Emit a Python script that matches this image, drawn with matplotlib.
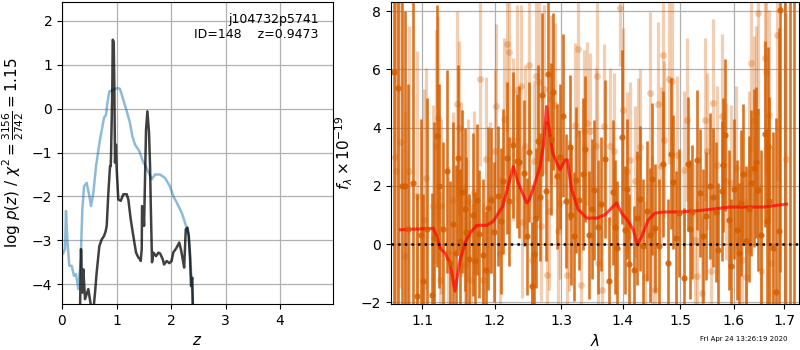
import numpy as np
import matplotlib
matplotlib.use("Agg")
import matplotlib.pyplot as plt
from matplotlib.ticker import ScalarFormatter, NullFormatter, FixedLocator, NullLocator

# ---------------- left panel data ----------------
z_chi = [0.02, 0.055, 0.073, 0.098, 0.134, 0.178, 0.22, 0.257, 0.30, 0.343, 0.373, 0.404,
         0.453, 0.501, 0.532, 0.575, 0.624, 0.697, 0.771, 0.807, 0.832, 0.868, 0.942, 1.015,
         1.064, 1.125, 1.187, 1.248, 1.29, 1.34, 1.419, 1.492, 1.523, 1.645, 1.706, 1.798,
         1.89, 1.98, 2.04, 2.10, 2.196, 2.257, 2.318, 2.349, 2.367, 2.39, 2.41]
chi_val = [-3.3, -3.2, -2.33, -2.98, -3.58, -3.58, -3.81, -3.77, -4.11, -3.43, -2.3, -1.77,
           -1.69, -1.99, -2.22, -1.92, -1.31, -0.70, -0.21, -0.14, 0.13, 0.39, 0.43, 0.47,
           0.45, 0.20, -0.06, -0.33, -0.63, -0.82, -0.97, -1.23, -1.28, -1.61, -1.50, -1.50,
           -1.58, -1.77, -1.99, -2.13, -2.37, -2.60, -2.86, -3.28, -3.73, -4.19, -4.6]

z_pz = [0.33, 0.349, 0.373, 0.391, 0.422, 0.483, 0.544, 0.575, 0.606, 0.636, 0.685, 0.728,
        0.771, 0.801, 0.82, 0.85, 0.881, 0.893, 0.899, 0.923, 0.93, 0.948, 0.96, 0.972,
        0.99, 1.003, 1.033, 1.077, 1.125, 1.187, 1.217, 1.26, 1.308, 1.358, 1.40, 1.43,
        1.444, 1.462, 1.468, 1.49, 1.505, 1.541, 1.566, 1.596, 1.615, 1.627, 1.651, 1.676,
        1.725, 1.768, 1.80, 1.847, 1.872, 1.92, 1.969, 2.01, 2.04, 2.10, 2.15, 2.18,
        2.214, 2.24, 2.27, 2.30, 2.325, 2.349, 2.367, 2.38, 2.39, 2.40]
pz_val = [-4.6, -3.2, -4.19, -3.66, -4.34, -4.11, -4.6, -4.6, -4.19, -3.73, -3.13, -2.98,
          -2.90, -2.79, -2.67, -1.92, -1.31, -1.31, -1.08, 0.51, 1.57, 1.53, 0.51, -1.23,
          -0.82, -1.39, -2.07, -2.10, -1.95, -1.95, -2.07, -2.52, -2.90, -3.28, -3.39, -3.43,
          -3.47, -3.20, -2.22, -2.30, -2.67, -0.48, -0.06, -0.55, -1.31, -2.14, -3.50, -3.28,
          -3.36, -3.28, -3.30, -3.43, -3.55, -3.47, -3.52, -3.47, -3.28, -3.17, -3.05, -3.20,
          -3.43, -3.62, -2.75, -2.71, -2.90, -3.43, -4.04, -3.89, -3.85, -4.7]

# ---------------- right panel data ----------------
wave_a = [1.0625, 1.0686, 1.0729, 1.0770, 1.0818, 1.0874, 1.0926, 1.0979, 1.1013, 1.1066,
          1.1124, 1.1160, 1.1191, 1.1226, 1.1271, 1.1333, 1.1369, 1.1414, 1.1450, 1.1482,
          1.1515, 1.1540, 1.1574, 1.1600, 1.1633, 1.1688, 1.1720, 1.1743, 1.1781, 1.1827,
          1.1874, 1.1906, 1.1943, 1.1996, 1.2049, 1.2090, 1.2129, 1.2176, 1.2210, 1.2270,
          1.2323, 1.2357, 1.2429, 1.2472, 1.2501, 1.2545, 1.2590, 1.2620, 1.2637, 1.2673,
          1.2711, 1.2760, 1.2799, 1.2840, 1.2874, 1.2934, 1.2990, 1.3035, 1.3076, 1.3137,
          1.3160, 1.3203, 1.3240, 1.3281, 1.3344, 1.3386, 1.3449, 1.3490, 1.3528, 1.3590,
          1.3647, 1.3712, 1.3766, 1.3838, 1.3870, 1.3901, 1.3986, 1.4040, 1.4080, 1.4113,
          1.4190, 1.4240, 1.4291, 1.4351, 1.4418, 1.4460, 1.4505, 1.4558, 1.4631, 1.4699,
          1.4788, 1.4841, 1.4881, 1.4930, 1.4988, 1.5077, 1.5138, 1.5180, 1.5220, 1.5304,
          1.5363, 1.5424, 1.5473, 1.5545, 1.5615, 1.5660, 1.5707, 1.5769, 1.5800, 1.5831,
          1.5912, 1.5956, 1.6010, 1.6066, 1.6110, 1.6149, 1.6179, 1.6244, 1.6290, 1.6341,
          1.6393, 1.6441, 1.6485, 1.6540, 1.6606, 1.6650, 1.6672, 1.6706, 1.6774, 1.6828,
          1.6896, 1.6924, 1.7025, 1.7128, 1.7216]
flux_a = [5.92, 5.35, 2.0, 2.0, 0.5, 2.09, -1.77, 0.3, -1.28, 0.5,
          -1.74, 0.2, 3.72, 1.98, 0.51, 2.49, -0.65, 0.69, -0.3, 2.95,
          0.09, 1.8, 1.2, 0.4, -0.5, 1.0, -0.6, 1.52, 0.34, -0.37,
          -0.88, 1.23, 1.5, 0.4, 1.64, 0.8, 2.15, 2.95, 1.46, 3.4,
          2.84, 2.81, 2.44, 0.26, 3.16, -1.43, -0.33, 0.9, 3.54, 1.61,
          5.12, 1.83, 5.84, 3.6, 5.23, 2.32, 3.0, 4.40, 1.48, 3.32,
          1.0, 0.26, 2.2, 1.52, 2.40, 3.26, 0.32, 1.2, 1.86, 0.6,
          1.38, 2.92, -1.28, 1.77, 0.6, -0.14, 3.67, 0.49, 1.9, -0.69,
          -0.88, 0.9, 1.56, -0.08, 1.14, 0.3, 2.23, 0.55, -0.08, 2.74,
          -0.65, 3.10, 2.12, 0.2, 1.06, -1.17, 2.74, 0.5, 1.10, 2.89,
          1.75, 0.26, 0.95, 2.0, 1.60, 1.1, -0.19, 1.81, 2.72, 3.75,
          0.83, -0.77, 1.9, 0.49, -0.3, 1.41, 2.41, 0.09, 1.2, 2.09,
          2.61, 2.80, 1.86, 0.32, 3.78, 0.8, 3.38, 1.46, -0.14, -1.66,
          0.43, 8.04, 10.0, 10.0, 10.0]
err_a = [9, 9, 8, 6, 5, 7, 3.5, 4, 3, 4.5,
         3.5, 4, 4.5, 3.5, 3, 3.5, 2.8, 3.5, 3, 3.2,
         2.5, 2.8, 2.8, 2.6, 2.2, 2.8, 2.4, 2.6, 2.2, 2.6,
         2.0, 2.8, 2.5, 2.4, 2.4, 2.5, 2.5, 2.6, 2.2, 2.5,
         2.3, 2.6, 2.5, 2.0, 2.4, 2.2, 2.3, 2.4, 2.6, 2.2,
         2.8, 2.4, 3.0, 2.6, 2.7, 2.5, 2.5, 2.8, 2.3, 2.5,
         2.4, 2.2, 2.5, 2.4, 2.6, 2.5, 2.2, 2.4, 2.4, 2.3,
         2.3, 2.7, 2.2, 2.5, 2.3, 2.3, 3.0, 2.2, 2.4, 2.4,
         2.2, 2.3, 2.5, 2.3, 2.4, 2.3, 2.6, 2.2, 2.3, 2.5,
         2.2, 2.6, 2.3, 2.3, 2.2, 2.4, 2.3, 2.4, 2.3, 2.4,
         2.2, 2.3, 2.2, 2.5, 2.4, 2.4, 2.3, 2.4, 2.3, 2.6,
         2.4, 2.3, 2.4, 2.4, 2.4, 2.5, 2.4, 2.6, 2.5, 2.5,
         2.7, 2.6, 2.8, 2.9, 3.2, 3.2, 3.4, 3.6, 4.0, 6.0,
         7.0, 9, 14, 14, 14]

wave_b = [1.0640, 1.0660, 1.0710, 1.0773, 1.0830, 1.0934, 1.1026, 1.1049, 1.1138, 1.1182,
          1.1213, 1.1236, 1.1245, 1.1347, 1.1414, 1.1468, 1.1491, 1.1528, 1.1574, 1.1619,
          1.1665, 1.1711, 1.1795, 1.1827, 1.1883, 1.1935, 1.2004, 1.2019, 1.2077, 1.2139,
          1.2174, 1.2212, 1.2263, 1.2330, 1.2380, 1.2403, 1.2443, 1.2506, 1.2557, 1.2580,
          1.2616, 1.2654, 1.2690, 1.2729, 1.2774, 1.2814, 1.2849, 1.2900, 1.2950, 1.2990,
          1.3093, 1.3128, 1.3222, 1.3274, 1.3313, 1.3365, 1.3404, 1.3465, 1.3556, 1.3566,
          1.3597, 1.3649, 1.3696, 1.3790, 1.3857, 1.3947, 1.3999, 1.4067, 1.4131, 1.4211,
          1.4266, 1.4303, 1.4389, 1.4465, 1.4509, 1.4551, 1.4601, 1.4656, 1.4700, 1.4716,
          1.4811, 1.4851, 1.4953, 1.5066, 1.5135, 1.5272, 1.5315, 1.5396, 1.5458, 1.5501,
          1.5565, 1.5615, 1.5679, 1.5785, 1.5856, 1.5945, 1.6048, 1.6168, 1.6244, 1.6295,
          1.6346, 1.6404, 1.6437, 1.6482, 1.6533, 1.6618, 1.6643, 1.6697, 1.6730, 1.6863,
          1.7033]
flux_b = [3.0, 2.5, 3.5, -0.42, 2.5, 1.64, 0.81, 2.26, 1.29, 3.35,
          4.32, -1.22, 1.29, -0.31, 1.52, 4.81, 3.98, 1.89, -0.71, 1.49,
          -1.22, 1.77, 5.67, -1.22, 2.92, 1.58, 3.21, 4.75, -0.31, 4.29,
          6.87, 6.61, 3.58, 5.29, 5.41, 0.74, 3.35, 6.15, -0.54, 2.84,
          5.77, 5.58, 0.63, 5.32, -1.05, 1.12, 4.97, 4.78, 0.43, 1.41,
          -1.05, 0.97, 4.09, 6.69, -1.40, 3.87, 4.15, 3.87, 3.35, 5.77,
          -0.65, -1.59, 4.06, 3.35, 3.18, 8.10, 4.61, 2.52, 2.87, 2.15,
          3.00, 3.32, -1.13, 5.18, 0.43, -1.57, 4.81, 2.69, 6.50, 3.58,
          5.66, 5.61, 3.06, 2.55, 4.27, 0.15, -1.11, -1.68, 4.27, 3.18,
          -0.94, 4.84, 2.72, 4.41, 2.15, 2.09, 2.61, -0.54, -1.13, 2.44,
          6.21, 4.24, 4.49, 7.92, -0.94, 6.38, 5.92, 4.44, -0.65, 7.18,
          2.92]
err_b = [8, 6, 5, 5, 5, 5, 4.5, 3.8, 3.5, 4.0,
         3.5, 3.0, 3.0, 3.0, 3.0, 3.2, 3.0, 3.0, 2.8, 2.8,
         2.6, 2.8, 3.0, 2.6, 2.8, 2.6, 2.8, 2.8, 2.6, 2.8,
         3.0, 3.0, 2.8, 2.9, 2.8, 2.6, 2.8, 3.0, 2.6, 2.8,
         3.0, 2.8, 2.6, 2.9, 2.6, 2.7, 2.9, 2.8, 2.6, 2.6,
         2.6, 2.6, 2.8, 3.0, 2.6, 2.8, 2.8, 2.7, 2.7, 2.9,
         2.6, 2.6, 2.8, 2.7, 2.7, 2.0, 2.8, 2.7, 2.7, 2.6,
         2.7, 2.7, 2.6, 2.8, 2.6, 2.6, 2.8, 2.7, 3.0, 2.7,
         2.9, 2.9, 2.7, 2.7, 2.8, 2.6, 2.6, 2.6, 2.8, 2.7,
         2.6, 2.9, 2.7, 2.8, 2.7, 2.7, 2.8, 2.7, 2.7, 2.8,
         3.0, 2.9, 3.0, 3.2, 3.0, 3.4, 3.5, 3.6, 4.0, 5.0,
         5.0]

wave_model = [1.0717, 1.1146, 1.1192, 1.1237, 1.1305, 1.1373, 1.1441, 1.1511, 1.1580, 1.1650,
              1.1744, 1.1886, 1.1981, 1.2054, 1.2117, 1.2176, 1.2273, 1.2347, 1.2473, 1.2512,
              1.2582, 1.2674, 1.2724, 1.2776, 1.2801, 1.2869, 1.2983, 1.3061, 1.3098, 1.3167,
              1.3272, 1.3407, 1.3569, 1.3705, 1.3788, 1.3899, 1.3983, 1.4095, 1.4180, 1.4248,
              1.4324, 1.4438, 1.4555, 1.4701, 1.4999, 1.5303, 1.5612, 1.5929, 1.6581, 1.7054]
flux_model = [0.49, 0.54, 0.26, -0.14, -0.31, -0.65, -1.62, -0.54, 0.03, 0.38,
              0.64, 0.64, 0.78, 1.06, 1.29, 1.81, 2.66, 2.09, 1.41, 1.52,
              1.98, 2.66, 3.35, 4.72, 4.15, 3.12, 2.55, 2.89, 2.89, 1.86,
              1.18, 0.89, 0.89, 1.01, 1.18, 1.41, 1.06, 0.78, 0.49, -0.02,
              0.26, 0.83, 1.06, 1.10, 1.10, 1.14, 1.20, 1.27, 1.27, 1.37]

xticks_r = [1.1, 1.2, 1.3, 1.4, 1.5, 1.6, 1.7]
yticks_r = [-2, 0, 2, 4, 6, 8]
xticks_l = [0, 1, 2, 3, 4]
yticks_l = [-4, -3, -2, -1, 0, 1, 2]

orange = '#d55e00'

fig = plt.figure(figsize=(8, 3.5), dpi=100)
ax1 = fig.add_axes([62/800, 46/350, 271/800, 302/350])
ax2 = fig.add_axes([391/800, 46/350, 408/800, 302/350])

# left panel
ax1.plot(z_chi, chi_val, color='tab:blue', alpha=0.5, lw=1.8)
ax1.plot(z_pz, pz_val, color='k', alpha=0.75, lw=1.8)
ax1.set_xlim(0, 4.97)
ax1.set_ylim(-4.45, 2.43)
ax1.set_xticks(xticks_l)
ax1.set_yticks(yticks_l)
ax1.grid(True, color='#b0b0b0', lw=0.9)
ax1.set_axisbelow(True)
ax1.set_xlabel(r'$z$', fontsize=11)
ax1.set_ylabel(r'$\log\,p(z)$' + ' / ' + r'$\chi^2=\frac{3156}{2742}=1.15$', fontsize=11)
ax1.text(0.947, 0.965, 'j104732p5741\nID=148    z=0.9473', ha='right', va='top',
         transform=ax1.transAxes, fontsize=9)
ax1.tick_params(labelsize=10)

# right panel
ax2.errorbar(wave_b, flux_b, yerr=err_b, color=orange, alpha=0.3, marker='o', ms=5,
             linestyle='None', elinewidth=2.3, mew=0)
ax2.errorbar(wave_a, flux_a, yerr=err_a, color=orange, alpha=0.85, marker='o', ms=4.5,
             linestyle='None', elinewidth=1.9, mew=0)
ax2.plot(wave_model, flux_model, color='r', alpha=0.7, lw=2.2)
ax2.axhline(0, color='k', linestyle=':', lw=1.8)
ax2.set_xscale('log')
ax2.set_xlim(1.0593, 1.731)
ax2.set_ylim(-2.06, 8.31)
ax2.xaxis.set_major_locator(FixedLocator(xticks_r))
ax2.xaxis.set_major_formatter(ScalarFormatter())
ax2.xaxis.set_minor_locator(NullLocator())
ax2.xaxis.set_minor_formatter(NullFormatter())
ax2.set_yticks(yticks_r)
ax2.grid(True, color='#b0b0b0', lw=0.9)
ax2.set_axisbelow(True)
ax2.set_xlabel(r'$\lambda$', fontsize=11)
ax2.set_ylabel(r'$f_\lambda\times 10^{-19}$', fontsize=11)
ax2.tick_params(labelsize=10)

fig.text(0.985, 0.022, 'Fri Apr 24 13:26:19 2020', ha='right', va='bottom', fontsize=5)

fig.savefig('out.png', dpi=100)
